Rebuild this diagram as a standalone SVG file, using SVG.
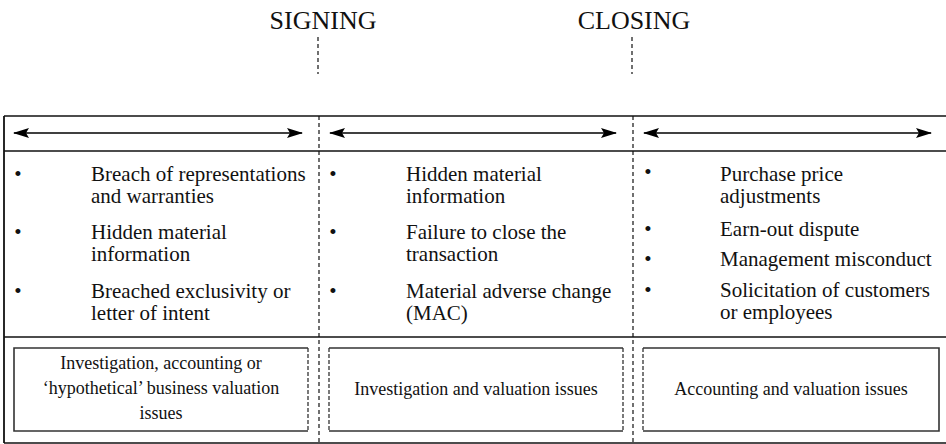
<svg xmlns="http://www.w3.org/2000/svg" width="946" height="444" viewBox="0 0 946 444">
<style>
text{font-family:"Liberation Serif","Times New Roman",serif;fill:#111}
.hd{font-size:26px;text-anchor:middle}
.b{font-size:21px}
.bul{font-size:21px;text-anchor:middle}
.bx{font-size:18px;text-anchor:middle}
.solid{stroke:#111;stroke-width:1.4;fill:none}
.dash{stroke:#111;stroke-width:1.2;fill:none;stroke-dasharray:4 3}
.bs{stroke:#333;stroke-width:1.6;fill:none}
.bd{stroke:#333;stroke-width:1.3;fill:none;stroke-dasharray:4 2}
.arr{stroke:#000;stroke-width:1.3;fill:none;marker-start:url(#ah);marker-end:url(#ah)}
</style>
<defs>
<marker id="ah" viewBox="0 0 16 10" refX="15" refY="5" markerWidth="16" markerHeight="10" markerUnits="userSpaceOnUse" orient="auto-start-reverse">
<path d="M0,0 L16,5 L0,10 L3,5 Z" fill="#000"/>
</marker>
</defs>
<g id="frame">
<line class="solid" x1="4" y1="116" x2="946" y2="116"/>
<line class="solid" x1="4" y1="151" x2="946" y2="151"/>
<line class="solid" x1="4" y1="337" x2="946" y2="337"/>
<line class="solid" x1="4" y1="443" x2="946" y2="443"/>
<line class="solid" x1="4" y1="116" x2="4" y2="443" style="stroke-width:1.8"/>
<line class="dash" x1="319" y1="116" x2="319" y2="443"/>
<line class="dash" x1="633" y1="116" x2="633" y2="443"/>
</g>
<g id="signing">
<text class="hd" x="323" y="29">SIGNING</text>
<line class="dash" x1="318" y1="37" x2="318" y2="74"/>
</g>
<g id="closing">
<text class="hd" x="634" y="29">CLOSING</text>
<line class="dash" x1="632" y1="37" x2="632" y2="74"/>
</g>
<g id="connectors">
<line class="arr" x1="14" y1="133" x2="302" y2="133"/>
<line class="arr" x1="330" y1="133" x2="616" y2="133"/>
<line class="arr" x1="644" y1="133" x2="931" y2="133"/>
</g>
<g id="col1">
<text class="bul" x="18" y="181">•</text>
<text class="b" x="91" y="181">Breach of representations</text>
<text class="b" x="91" y="203">and warranties</text>
<text class="bul" x="18" y="239">•</text>
<text class="b" x="91" y="239">Hidden material</text>
<text class="b" x="91" y="261">information</text>
<text class="bul" x="18" y="298">•</text>
<text class="b" x="91" y="298">Breached exclusivity or</text>
<text class="b" x="91" y="320">letter of intent</text>
</g>
<g id="col2">
<text class="bul" x="333" y="181">•</text>
<text class="b" x="406" y="181">Hidden material</text>
<text class="b" x="406" y="203">information</text>
<text class="bul" x="333" y="239">•</text>
<text class="b" x="406" y="239">Failure to close the</text>
<text class="b" x="406" y="261">transaction</text>
<text class="bul" x="333" y="298">•</text>
<text class="b" x="406" y="298">Material adverse change</text>
<text class="b" x="406" y="320">(MAC)</text>
</g>
<g id="col3">
<text class="bul" x="648" y="179">•</text>
<text class="b" x="720" y="181">Purchase price</text>
<text class="b" x="720" y="203">adjustments</text>
<text class="bul" x="648" y="236">•</text>
<text class="b" x="720" y="236">Earn-out dispute</text>
<text class="bul" x="648" y="266">•</text>
<text class="b" x="720" y="266">Management misconduct</text>
<text class="bul" x="648" y="297">•</text>
<text class="b" x="720" y="297">Solicitation of customers</text>
<text class="b" x="720" y="319">or employees</text>
</g>
<g id="box1">
<path class="bs" d="M308,348 L14,348 L14,431 L308,431"/>
<line class="bd" x1="308" y1="348" x2="308" y2="431"/>
<text class="bx" x="161" y="369">Investigation, accounting or</text>
<text class="bx" x="161" y="394">‘hypothetical’ business valuation</text>
<text class="bx" x="161" y="419">issues</text>
</g>
<g id="box2">
<line class="bs" x1="329" y1="348" x2="623" y2="348"/>
<line class="bs" x1="329" y1="431" x2="623" y2="431"/>
<line class="bd" x1="329" y1="348" x2="329" y2="431"/>
<line class="bd" x1="623" y1="348" x2="623" y2="431"/>
<text class="bx" x="476" y="395">Investigation and valuation issues</text>
</g>
<g id="box3">
<path class="bs" d="M643,348 L939,348 L939,431 L643,431"/>
<line class="bd" x1="643" y1="348" x2="643" y2="431"/>
<text class="bx" x="791" y="395">Accounting and valuation issues</text>
</g>
</svg>
